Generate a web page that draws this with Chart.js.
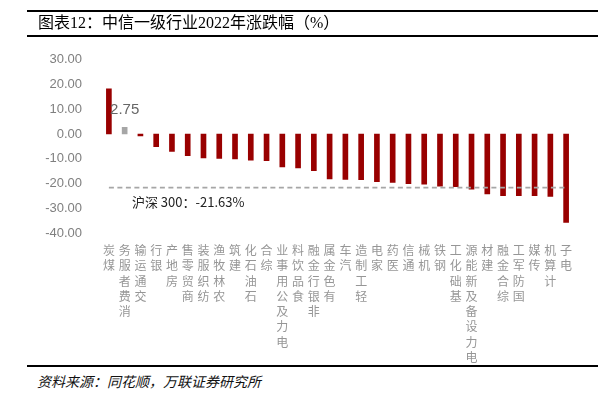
<!DOCTYPE html>
<html>
<head>
<meta charset="utf-8">
<script src="https://cdn.jsdelivr.net/npm/chart.js@4"></script>
<style>
    body { margin: 0; width: 609px; height: 398px; background: #fff; position: relative; overflow: hidden; }
    .raya { position: absolute; left: 27px; width: 571px; background: #000; }
    #titulo { position: absolute; left: 38px; top: 13px; font-size: 16px; line-height: 20px; color: #000;
              font-family: "Liberation Serif", "Noto Sans CJK SC", serif; white-space: nowrap; }
    #fuente { position: absolute; left: 37px; top: 372px; font-size: 14px; line-height: 18px; color: #111;
              font-family: "Noto Sans CJK SC", sans-serif; font-style: italic; white-space: nowrap; }
    #grafico { position: absolute; left: 0; top: 33px; }
</style>
</head>
<body>
<canvas id="grafico" width="609" height="330"></canvas>
<div class="raya" style="top:10px;height:1.5px"></div>
<div id="titulo">图表12：中信一级行业2022年涨跌幅（%）</div>
<div class="raya" style="top:35px;height:2px"></div>
<div class="raya" style="top:365px;height:2px"></div>
<div id="fuente">资料来源：同花顺，万联证券研究所</div>

<script>
const industrias = ['煤炭', '消费者服务', '交通运输', '银行', '房地产', '商贸零售', '纺织服装', '农林牧渔',
    '建筑', '石油石化', '综合', '电力及公用事业', '食品饮料', '非银行金融', '有色金属', '汽车', '轻工制造',
    '家电', '医药', '通信', '机械', '钢铁', '基础化工', '电力设备及新能源', '建材', '综合金融', '国防军工',
    '传媒', '计算机', '电子'];
const variaciones = [18.3, 2.75, -0.8, -5.1, -7.0, -8.7, -9.7, -9.9, -10.1, -10.6, -10.8, -13.3, -13.7,
    -14.8, -18.1, -18.3, -18.4, -19.3, -19.6, -20.1, -20.3, -21.1, -21.3, -22.3, -24.2, -24.9, -24.9,
    -24.9, -25.2, -35.7];
const hs300 = -21.63;
const ticksY = [30, 20, 10, 0, -10, -20, -30, -40];
const indiceGris = 1;

// texto vertical: cada caracter en su linea, leido de abajo hacia arriba
const etiquetasX = industrias.map(n => n.split('').reverse());
const colores = industrias.map((n, i) => i === indiceGris ? '#a6a6a6' : '#990000');

const etiquetas = {
    id: 'etiquetas',
    afterDatasetsDraw(chart) {
        const ctx = chart.ctx;
        const barra = chart.getDatasetMeta(0).data[indiceGris];
        ctx.save();
        ctx.font = '15px "Liberation Sans"';
        ctx.fillStyle = '#666';
        ctx.textAlign = 'center';
        ctx.textBaseline = 'bottom';
        ctx.fillText(variaciones[indiceGris].toFixed(2), barra.x, barra.y - 10);

        const y = chart.scales.y.getPixelForValue(hs300);
        ctx.font = '13px "Noto Sans CJK SC"';
        ctx.fillStyle = '#222';
        ctx.textAlign = 'left';
        ctx.textBaseline = 'middle';
        ctx.fillText('沪深 300：' + hs300.toFixed(2) + '%', chart.scales.x.getPixelForValue(0) + 23, y + 15);
        ctx.restore();
    }
};

const ctx = document.getElementById('grafico').getContext('2d');
new Chart(ctx, {
    type: 'bar',
    data: {
        labels: etiquetasX,
        datasets: [{
            type: 'bar',
            data: variaciones,
            backgroundColor: colores,
            barThickness: 5,
            order: 1
        }, {
            type: 'line',
            data: industrias.map(() => hs300),
            borderColor: '#a6a6a6',
            borderDash: [5, 3.5],
            borderWidth: 1.8,
            pointRadius: 0,
            order: 0
        }]
    },
    options: {
        responsive: false,
        animation: false,
        layout: { padding: { top: 12, right: 35, left: 0, bottom: 0 } },
        plugins: {
            legend: { display: false },
            tooltip: { enabled: false }
        },
        scales: {
            x: {
                grid: { display: false, drawTicks: false },
                border: { display: false },
                ticks: {
                    color: '#969696',
                    font: { family: '"Noto Sans CJK SC"', size: 12, lineHeight: 1.27 },
                    maxRotation: 0, minRotation: 0, autoSkip: false, padding: 10
                },
                afterFit(s) { s.height = 130; }
            },
            y: {
                min: ticksY[ticksY.length - 1],
                max: ticksY[0],
                grid: { display: false, drawTicks: false },
                border: { display: false },
                ticks: {
                    stepSize: 10,
                    color: '#7f7f7f',
                    font: { family: '"Liberation Sans"', size: 13 },
                    padding: 19,
                    callback: v => v.toFixed(2)
                },
                afterFit(s) { s.width = 101; }
            }
        }
    },
    plugins: [etiquetas]
});
</script>
</body>
</html>
